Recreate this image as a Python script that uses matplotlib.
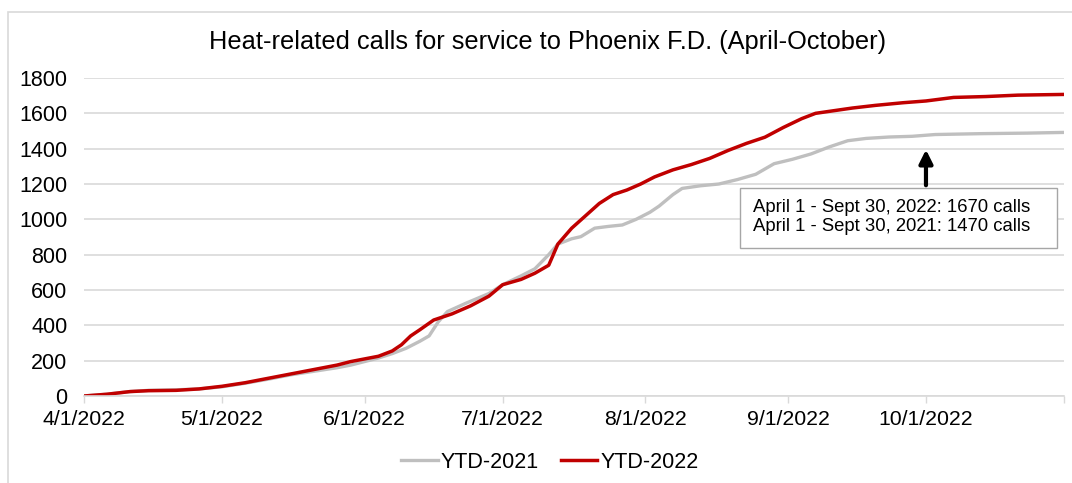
import pandas as pd
import matplotlib
matplotlib.use("Agg")
import matplotlib.pyplot as plt
from matplotlib.patches import Rectangle

plt.rcParams['font.family'] = ['Liberation Sans', 'DejaVu Sans']

start = pd.Timestamp("2022-04-01")

# days since April 1 and cumulative calls
days_2022 = [0, 5, 10, 14, 20, 25, 30, 35, 40, 45, 50, 55, 58, 61, 64, 67, 69, 71, 73, 76,
             80, 84, 88, 91, 95, 98, 101, 103, 106, 109, 112, 115, 118, 121, 124, 128, 132,
             136, 140, 144, 148, 152, 156, 159, 163, 167, 172, 178, 183, 189, 196, 203, 213]
ytd_2022 = [0, 10, 25, 30, 32, 40, 55, 75, 100, 125, 150, 175, 195, 210, 225, 255, 290, 340,
            375, 430, 465, 510, 565, 630, 660, 695, 740, 860, 950, 1020, 1090, 1140, 1166,
            1200, 1240, 1280, 1310, 1345, 1390, 1430, 1465, 1520, 1570, 1600, 1615, 1630,
            1645, 1660, 1670, 1690, 1695, 1703, 1707]

days_2021 = [0, 5, 10, 14, 20, 25, 30, 35, 40, 45, 50, 55, 58, 61, 64, 67, 70, 73, 75, 77,
             79, 83, 88, 91, 95, 98, 101, 103, 106, 108, 111, 114, 117, 120, 123, 125, 128,
             130, 134, 138, 142, 146, 150, 154, 158, 162, 166, 170, 175, 180, 185, 195, 205, 213]
ytd_2021 = [0, 10, 25, 32, 35, 40, 52, 72, 95, 120, 140, 160, 175, 195, 215, 240, 270, 310,
            340, 420, 478, 525, 580, 630, 680, 720, 800, 860, 890, 902, 950, 960, 968, 1000,
            1040, 1075, 1140, 1175, 1190, 1200, 1225, 1255, 1315, 1340, 1370, 1410, 1445,
            1458, 1466, 1470, 1480, 1485, 1488, 1492]

month_ticks = ["4/1/2022", "5/1/2022", "6/1/2022", "7/1/2022", "8/1/2022", "9/1/2022", "10/1/2022"]
note_lines = ["April 1 - Sept 30, 2022: 1670 calls", "April 1 - Sept 30, 2021: 1470 calls"]

x22 = start + pd.to_timedelta(days_2022, unit="D")
x21 = start + pd.to_timedelta(days_2021, unit="D")

fig = plt.figure(figsize=(10.72, 4.83), dpi=100)
ax = fig.add_axes([84 / 1072, 1 - 396 / 483, 980 / 1072, 318 / 483])

# light frame around the chart
fig.patches.append(Rectangle((8 / 1072, -0.05), 1.1, 1 - 12 / 483 + 0.05, transform=fig.transFigure,
                             fill=False, edgecolor="#d9d9d9", linewidth=1.2))

ax.plot(x21, ytd_2021, color="#bfbfbf", linewidth=2.4, label="YTD-2021")
ax.plot(x22, ytd_2022, color="#c00000", linewidth=2.5, label="YTD-2022")

ax.set_xlim(start, pd.Timestamp("2022-10-31"))
ax.set_ylim(0, 1800)
ax.set_yticks(range(0, 1801, 200))
ax.yaxis.grid(True, color="#d9d9d9", linewidth=1.2)
ax.set_axisbelow(True)

tick_dates = [pd.Timestamp(t) for t in month_ticks]
ax.set_xticks(tick_dates)
ax.set_xticklabels(month_ticks)
ax.set_xticks([pd.Timestamp("2022-10-31")], minor=True)
ax.tick_params(axis="x", which="both", length=5, width=1, color="#d9d9d9", labelsize=15.3, pad=5)
ax.tick_params(axis="y", length=0, labelsize=15.5, pad=12)

for s in ["top", "right", "left"]:
    ax.spines[s].set_visible(False)
ax.spines["bottom"].set_color("#d9d9d9")
ax.spines["bottom"].set_linewidth(1.2)

fig.text(0.511, 1 - 42 / 483, "Heat-related calls for service to Phoenix F.D. (April-October)",
         ha="center", va="center", fontsize=18.3)

# annotation box and arrow
ax.annotate("", xy=(pd.Timestamp("2022-10-01"), 1410), xytext=(pd.Timestamp("2022-10-01"), 1177),
            arrowprops=dict(arrowstyle="-|>,head_width=0.4,head_length=0.8", color="black", lw=3))
ax.add_patch(Rectangle((0.669, 0.465), 0.324, 0.189, transform=ax.transAxes, facecolor="white",
                       edgecolor="#a6a6a6", linewidth=1, zorder=3))
ax.text(0.683, 0.563, "\n".join(note_lines), transform=ax.transAxes, fontsize=13.3,
        ha="left", va="center", linespacing=1.12, zorder=4)

fig.legend(loc="center", bbox_to_anchor=(0.513, 1 - 462 / 483), ncol=2, frameon=False,
           fontsize=15.5, handlelength=1.7, handletextpad=0.15, columnspacing=1.0)

fig.savefig("out.png", dpi=100)
